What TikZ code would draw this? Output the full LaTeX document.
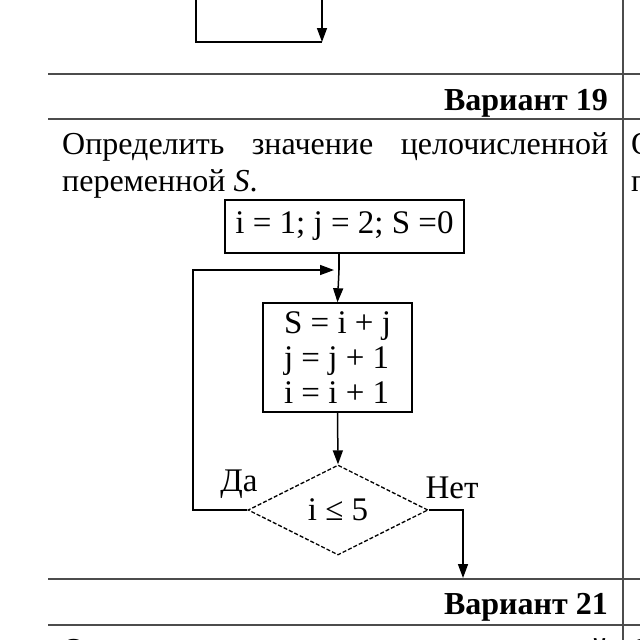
\documentclass[tikz,border=0pt]{standalone}
\usepackage{fontspec}
\setmainfont{Liberation Serif}
\usetikzlibrary{shapes.geometric,arrows.meta}
\begin{document}
\begin{tikzpicture}[x=1pt,y=-1pt,
  tableline/.style={draw=black!70,line width=1.2pt},
  flow/.style={draw=black,line width=1.5pt},
  arr/.style={flow,-{Triangle[length=14pt,width=10pt]}},
  bodytext/.style={font=\fontsize{32}{37}\selectfont,inner sep=0pt},
  headtext/.style={font=\fontsize{32}{37}\selectfont\bfseries,inner sep=0pt},
  fctext/.style={font=\fontsize{33}{35}\selectfont},
  procbox/.style={flow,rectangle,inner sep=0pt,fctext},
  decbox/.style={draw=black,line width=1.3pt,dash pattern=on 4pt off 2pt,diamond,aspect=2,inner sep=0pt,minimum width=180pt,minimum height=90pt,fctext},
  lbl/.style={fctext,inner sep=0pt}]
\useasboundingbox (0,0) rectangle (640,640);
\clip (0,0) rectangle (640,640);
\fill[white] (0,0) rectangle (640,640);
% previous fragment
\coordinate (pa) at (196,0);
\coordinate (pb) at (196,42);
\coordinate (pc) at (322,42);
\coordinate (pd) at (322,0);
\draw[flow] (pa) -- (pb) -- (pc);
\draw[arr] (pd) -- (pc);
% table
\coordinate (h1l) at (48,74);   \coordinate (h1r) at (640,74);
\coordinate (h2l) at (48,119);  \coordinate (h2r) at (640,119);
\coordinate (h3l) at (48,579);  \coordinate (h3r) at (640,579);
\coordinate (h4l) at (48,625);  \coordinate (h4r) at (640,625);
\coordinate (vt) at (623,0);    \coordinate (vb) at (623,640);
\draw[tableline] (h1l) -- (h1r);
\draw[tableline] (h2l) -- (h2r);
\draw[tableline] (h3l) -- (h3r);
\draw[tableline] (h4l) -- (h4r);
\draw[tableline] (vt) -- (vb);
% headings
\node[headtext,anchor=base east] (v19) at (608,110) {Вариант 19};
\node[headtext,anchor=base east] (v21) at (608,614) {Вариант 21};
% task text
\node[bodytext,anchor=base west] (t1) at (62,154) {\makebox[546pt][s]{Определить значение целочисленной}};
\node[bodytext,anchor=base west] (t2) at (62,191) {переменной \textit{S}.};
\node[bodytext,anchor=base west] (r1) at (631,154) {О};
\node[bodytext,anchor=base west] (r2) at (631,191) {п};
\node[bodytext,anchor=base west] (t3) at (62,660) {\makebox[546pt][s]{Определить значение целочисленной}};
\node[bodytext,anchor=base west] (r3) at (631,660) {О};
% flowchart
\node[procbox,minimum width=239pt,minimum height=53pt] (init) at (344.5,226.5) {i = 1; j = 2; S =0};
\coordinate (merge) at (339,270);
\node[procbox,minimum width=149pt,minimum height=109pt,align=left] (body) at (337.5,357.5) {S = i + j\\ j = j + 1\\ i = i + 1};
\node[decbox] (dec) at (338,510) {i ≤ 5};
\coordinate (lc) at (193,510);
\coordinate (rc) at (463,510);
\coordinate (ex) at (463,578);
\draw[flow] (init.south -| merge) -- (merge);
\draw[arr] (merge) -- (body.north);
\draw[arr] (body.south) -- (dec.north);
\draw[arr,shorten >=5pt] (dec.west) -- (lc) |- (merge);
\draw[arr] (dec.east) -- (rc) -- (ex);
\node[lbl] (yes) at (239,484) {Да};
\node[lbl] (no) at (452,488) {Нет};
\end{tikzpicture}
\end{document}
